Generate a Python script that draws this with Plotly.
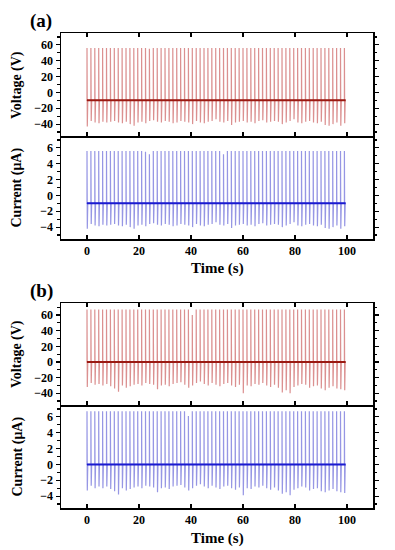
import plotly.graph_objects as go

# ---------------- data ----------------
spike_times = [0.0, 1.5, 3.0, 4.5, 6.0, 7.5, 9.0, 10.5, 12.0, 13.5, 15.0, 16.5, 18.0,
               19.5, 21.0, 22.5, 24.0, 25.5, 27.0, 28.5, 30.0, 31.5, 33.0, 34.5, 36.0,
               37.5, 39.0, 40.5, 42.0, 43.5, 45.0, 46.5, 48.0, 49.5, 51.0, 52.5, 54.0,
               55.5, 57.0, 58.5, 60.0, 61.5, 63.0, 64.5, 66.0, 67.5, 69.0, 70.5, 72.0,
               73.5, 75.0, 76.5, 78.0, 79.5, 81.0, 82.5, 84.0, 85.5, 87.0, 88.5, 90.0,
               91.5, 93.0, 94.5, 96.0, 97.5, 99.0]

# (a) voltage
va_base = -10
va_peak = [56, 56, 56, 56, 56, 56, 56, 56, 56, 56, 56, 56, 56, 56, 56, 56, 55, 56,
           56, 56, 56, 56, 56, 56, 56, 56, 56, 56, 56, 56, 56, 56, 56, 56, 56, 56,
           56, 56, 56, 56, 56, 56, 56, 56, 56, 56, 56, 56, 56, 56, 56, 56, 56, 56,
           56, 56, 56, 56, 56, 56, 56, 56, 56, 56, 56, 56, 56]
va_trough = [-43, -36, -38, -39, -37, -38, -37, -36, -38, -39, -37, -40, -42, -38,
             -37, -39, -36, -35, -37, -38, -36, -37, -39, -38, -36, -37, -38, -40,
             -36, -38, -39, -37, -36, -34, -37, -38, -36, -41, -38, -37, -36, -38,
             -37, -39, -36, -35, -38, -37, -36, -37, -40, -38, -36, -34, -38, -39,
             -37, -36, -38, -39, -37, -41, -42, -40, -38, -42, -39]

# (a) current
ca_base = -1.0
ca_peak = [5.6, 5.6, 5.6, 5.6, 5.6, 5.6, 5.6, 5.6, 5.6, 5.6, 5.6, 5.6, 5.6, 5.6,
           5.6, 5.5, 5.2, 5.6, 5.6, 5.6, 5.6, 5.6, 5.6, 5.6, 5.6, 5.6, 5.6, 5.6,
           5.6, 5.6, 5.6, 5.6, 5.6, 5.6, 5.6, 5.2, 5.6, 5.6, 5.6, 5.6, 5.6, 5.6,
           5.6, 5.6, 5.6, 5.6, 5.6, 5.6, 5.6, 5.6, 5.6, 5.6, 5.6, 5.6, 5.6, 5.6,
           5.6, 5.6, 5.6, 5.6, 5.6, 5.6, 5.6, 5.6, 5.6, 5.6, 5.6]
ca_trough = [-4.2, -3.6, -3.8, -3.9, -3.7, -3.8, -3.7, -3.6, -3.8, -3.9, -3.7, -4.0,
             -4.2, -3.8, -3.7, -3.9, -3.6, -3.5, -3.7, -3.8, -3.6, -3.7, -3.9, -3.8,
             -3.6, -3.7, -3.8, -4.0, -3.6, -3.8, -3.9, -3.7, -3.6, -3.4, -3.7, -3.8,
             -3.6, -4.1, -3.8, -3.7, -3.6, -3.8, -3.7, -3.9, -3.6, -3.5, -3.8, -3.7,
             -3.6, -3.7, -4.0, -3.8, -3.6, -3.4, -3.8, -3.9, -3.7, -3.6, -3.8, -3.9,
             -3.7, -4.1, -4.2, -4.0, -3.8, -4.2, -3.9]

# (b) voltage
vb_base = 0
vb_peak = [67, 67, 67, 67, 67, 67, 67, 67, 67, 67, 67, 67, 67, 67, 67, 67, 67, 67,
           67, 67, 67, 67, 67, 67, 67, 67, 67, 60, 67, 67, 67, 67, 67, 67, 67, 67,
           67, 67, 67, 67, 67, 67, 67, 67, 67, 67, 67, 67, 67, 67, 67, 67, 67, 67,
           67, 67, 67, 67, 67, 67, 67, 67, 67, 67, 67, 67, 67]
vb_trough = [-32, -27, -29, -28, -30, -28, -31, -34, -38, -30, -33, -31, -29, -28,
             -30, -27, -28, -29, -35, -30, -29, -31, -28, -27, -26, -29, -33, -30,
             -27, -25, -28, -30, -27, -29, -31, -28, -27, -30, -32, -29, -40, -30,
             -31, -28, -29, -27, -30, -32, -29, -33, -39, -36, -40, -32, -30, -28,
             -29, -33, -31, -30, -34, -36, -33, -31, -34, -35, -36]

# (b) current
cb_base = 0.0
cb_peak = [6.7, 6.7, 6.7, 6.7, 6.7, 6.7, 6.7, 6.7, 6.7, 6.7, 6.7, 6.7, 6.7, 6.7,
           6.7, 6.7, 6.7, 6.7, 6.7, 6.7, 6.7, 6.7, 6.7, 6.7, 6.7, 6.7, 6.1, 6.7,
           6.7, 6.7, 6.7, 6.7, 6.7, 6.7, 6.7, 6.7, 6.7, 6.7, 6.7, 6.7, 6.7, 6.7,
           6.7, 6.7, 6.7, 6.7, 6.7, 6.7, 6.7, 6.7, 6.7, 6.7, 6.7, 6.7, 6.7, 6.7,
           6.7, 6.7, 6.7, 6.7, 6.7, 6.7, 6.7, 6.7, 6.7, 6.7, 6.7]
cb_trough = [-3.3, -2.7, -3.0, -2.8, -3.0, -2.8, -3.1, -3.4, -3.8, -3.0, -3.3, -3.1,
             -2.9, -2.8, -3.0, -2.7, -2.8, -2.9, -3.5, -3.0, -2.9, -3.1, -2.8, -2.7,
             -2.6, -2.9, -3.3, -3.0, -2.7, -2.5, -2.8, -3.0, -2.7, -2.9, -3.1, -2.8,
             -2.7, -3.0, -3.2, -2.9, -3.9, -3.0, -3.1, -2.8, -2.9, -2.7, -3.0, -3.2,
             -2.9, -3.3, -3.7, -3.5, -3.9, -3.2, -3.0, -2.8, -2.9, -3.3, -3.1, -3.0,
             -3.4, -3.5, -3.3, -3.1, -3.4, -3.5, -3.6]

x_ticks = [0, 20, 40, 60, 80, 100]
v_ticks = [-40, -20, 0, 20, 40, 60]
c_ticks = [-4, -2, 0, 2, 4, 6]


def spike_path(times, base, peaks, troughs):
    xs, ys = [times[0] - 0.3], [base]
    for t, p, q in zip(times, peaks, troughs):
        xs += [t, t, t + 0.12, t + 0.3]
        ys += [base, p, q, base]
    return xs, ys


W, H = 395, 550
x0, x1 = 61 / W, 373 / W

def dom(top, bot):
    return [1 - bot / H, 1 - top / H]

panels = [
    ("x", "y", va_base, va_peak, va_trough, "rgba(195,70,70,0.6)", "#9a1a12", dom(33, 136), [-55, 75], v_ticks, 10),
    ("x2", "y2", ca_base, ca_peak, ca_trough, "rgba(80,80,210,0.6)", "#1a1ad0", dom(136, 239), [-5.5, 7.5], c_ticks, 1),
    ("x3", "y3", vb_base, vb_peak, vb_trough, "rgba(195,70,70,0.6)", "#9a1a12", dom(303.3, 405), [-55, 75], v_ticks, 10),
    ("x4", "y4", cb_base, cb_peak, cb_trough, "rgba(80,80,210,0.6)", "#1a1ad0", dom(405, 508), [-5.5, 7.5], c_ticks, 1),
]

fig = go.Figure()
tickfont = dict(family="Liberation Serif", size=12, color="black", weight="bold")
layout = dict(width=W, height=H, margin=dict(l=0, r=0, t=0, b=0),
              paper_bgcolor="white", plot_bgcolor="white", showlegend=False)

for i, (xa, ya, base, pk, tr, col, bcol, d, rng, yt, ymin) in enumerate(panels):
    xs, ys = spike_path(spike_times, base, pk, tr)
    fig.add_trace(go.Scatter(x=xs, y=ys, mode="lines", xaxis=xa, yaxis=ya,
                             line=dict(color=col, width=1.2), hoverinfo="skip"))
    fig.add_trace(go.Scatter(x=[spike_times[0], spike_times[-1] + 0.5], y=[base, base],
                             mode="lines", xaxis=xa, yaxis=ya,
                             line=dict(color=bcol, width=2), hoverinfo="skip"))
    xkey = "xaxis" if i == 0 else f"xaxis{i+1}"
    ykey = "yaxis" if i == 0 else f"yaxis{i+1}"
    lower = (i % 2 == 1)
    layout[xkey] = dict(domain=[x0, x1], range=[-10, 110], anchor=ya, autorange=False,
                        tickmode="array", tickvals=x_ticks, showticklabels=lower,
                        ticks="inside", ticklen=4, tickwidth=1.2, tickcolor="black",
                        showline=True, linecolor="black", linewidth=1.5,
                        mirror=(False if lower else "ticks"),
                        showgrid=False, zeroline=False, tickfont=tickfont)
    layout[ykey] = dict(domain=d, range=rng, anchor=xa, autorange=False,
                        tickmode="array", tickvals=yt, ticks="outside", ticklen=4,
                        tickwidth=1.2, tickcolor="black",
                        minor=dict(dtick=ymin, tick0=0, ticks="outside", ticklen=2.5,
                                   tickcolor="black", showgrid=False),
                        showline=True, linecolor="black", linewidth=1.5, mirror="ticks",
                        showgrid=False, zeroline=False, tickfont=tickfont)

fig.update_layout(**layout)

title_font = dict(family="Liberation Serif", size=14, color="black", weight="bold")
anns = [
    ("Voltage (V)", 17, 85, -90, title_font),
    ("Current (μA)", 17, 187.5, -90, title_font),
    ("Voltage (V)", 17, 354, -90, title_font),
    ("Current (μA)", 17, 456.5, -90, title_font),
    ("Time (s)", 217, 268, 0, dict(title_font, size=15)),
    ("Time (s)", 217, 538, 0, dict(title_font, size=15)),
    ("(a)", 41, 21, 0, dict(title_font, size=19)),
    ("(b)", 41, 291, 0, dict(title_font, size=19)),
]
for text, px, py, ang, f in anns:
    fig.add_annotation(text=text, x=px / W, y=1 - py / H, xref="paper", yref="paper",
                       showarrow=False, textangle=ang, font=f,
                       xanchor="center", yanchor="middle")

fig.write_html("out.html", config={"displayModeBar": False, "staticPlot": True})

# remove the default page margin so the figure sits at the window's top-left corner
with open("out.html", encoding="utf-8") as fh:
    html = fh.read()
html = html.replace("<head>", "<head><style>html,body{margin:0;padding:0;overflow:hidden;}</style>", 1)
with open("out.html", "w", encoding="utf-8") as fh:
    fh.write(html)
